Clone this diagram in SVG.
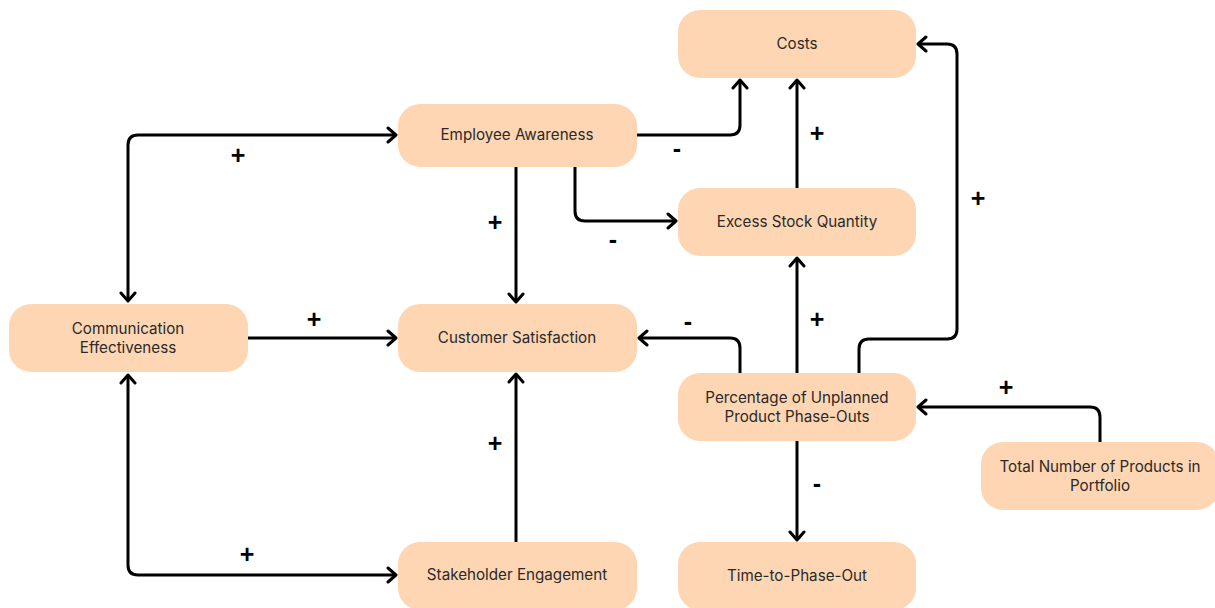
<svg xmlns="http://www.w3.org/2000/svg" width="1215" height="608" viewBox="0 0 1215 608">
  <style>
    .node rect { fill: #fed6b3; }
    .node text { font-family: Inter, "Open Sans", "Liberation Sans", sans-serif; font-size: 15.2px; fill: #2a2a2a; text-anchor: middle; }
    .edge { fill: none; stroke: #000; stroke-width: 3; stroke-linejoin: round; marker-end: url(#arr); }
    .both { marker-start: url(#arr); }
    .sign { font-family: "Liberation Sans", Arial, sans-serif; font-size: 25px; font-weight: bold; fill: #000; text-anchor: middle; }
  </style>
  <defs>
    <marker id="arr" viewBox="-11 -9 14 18" markerWidth="14" markerHeight="18" refX="0" refY="0" orient="auto-start-reverse" markerUnits="userSpaceOnUse">
      <path d="M-8,-7 L0,0 L-8,7" fill="none" stroke="#000" stroke-width="3" stroke-linecap="round" stroke-linejoin="round"/>
    </marker>
  </defs>
  <rect width="1215" height="608" fill="#fff"/>

  <!-- connectors -->
  <g id="connectors">
    <path class="edge both" d="M128,301 L128,145 Q128,135 138,135 L396,135"/>
    <path class="edge" d="M248,338 L396,338"/>
    <path class="edge both" d="M128,375 L128,565 Q128,575 138,575 L396,575"/>
    <path class="edge" d="M516,167 L516,302"/>
    <path class="edge" d="M516,542 L516,374"/>
    <path class="edge" d="M637,135 L730,135 Q740,135 740,125 L740,80"/>
    <path class="edge" d="M575,167 L575,211 Q575,221 585,221 L676,221"/>
    <path class="edge" d="M797,188 L797,80"/>
    <path class="edge" d="M797,373 L797,258"/>
    <path class="edge" d="M740,373 L740,348 Q740,338 730,338 L639,338"/>
    <path class="edge" d="M859,373 L859,349 Q859,339 869,339 L947,339 Q957,339 957,329 L957,54 Q957,44 947,44 L918,44"/>
    <path class="edge" d="M1100,442 L1100,417 Q1100,407 1090,407 L918,407"/>
    <path class="edge" d="M797,441 L797,540"/>

    <text class="sign" x="238" y="164">+</text>
    <text class="sign" x="314" y="328">+</text>
    <text class="sign" x="247" y="563">+</text>
    <text class="sign" x="495" y="231">+</text>
    <text class="sign" x="495" y="452">+</text>
    <text class="sign" x="677" y="157">-</text>
    <text class="sign" x="613" y="248">-</text>
    <text class="sign" x="817" y="142">+</text>
    <text class="sign" x="817" y="328">+</text>
    <text class="sign" x="688" y="330">-</text>
    <text class="sign" x="978" y="207">+</text>
    <text class="sign" x="1006" y="396">+</text>
    <text class="sign" x="817" y="492">-</text>
  </g>

  <!-- nodes -->
  <g id="costs" class="node">
    <rect x="678" y="10" width="238" height="68" rx="22"/>
    <text x="797" y="49">Costs</text>
  </g>
  <g id="employee-awareness" class="node">
    <rect x="398" y="104" width="239" height="63" rx="22"/>
    <text x="517" y="140">Employee Awareness</text>
  </g>
  <g id="excess-stock" class="node">
    <rect x="678" y="188" width="238" height="68" rx="22"/>
    <text x="797" y="227">Excess Stock Quantity</text>
  </g>
  <g id="communication" class="node">
    <rect x="9" y="304" width="239" height="68" rx="22"/>
    <text x="128" y="334">Communication</text>
    <text x="128" y="353">Effectiveness</text>
  </g>
  <g id="customer-satisfaction" class="node">
    <rect x="398" y="304" width="239" height="68" rx="22"/>
    <text x="517" y="343">Customer Satisfaction</text>
  </g>
  <g id="unplanned-phaseouts" class="node">
    <rect x="678" y="373" width="238" height="68" rx="22"/>
    <text x="797" y="403">Percentage of Unplanned</text>
    <text x="797" y="422">Product Phase-Outs</text>
  </g>
  <g id="total-products" class="node">
    <rect x="981" y="442" width="238" height="68" rx="22"/>
    <text x="1100" y="472">Total Number of Products in</text>
    <text x="1100" y="491">Portfolio</text>
  </g>
  <g id="stakeholder-engagement" class="node">
    <rect x="398" y="542" width="239" height="68" rx="22"/>
    <text x="517" y="580">Stakeholder Engagement</text>
  </g>
  <g id="time-to-phaseout" class="node">
    <rect x="678" y="542" width="238" height="68" rx="22"/>
    <text x="797" y="581">Time-to-Phase-Out</text>
  </g>
</svg>
